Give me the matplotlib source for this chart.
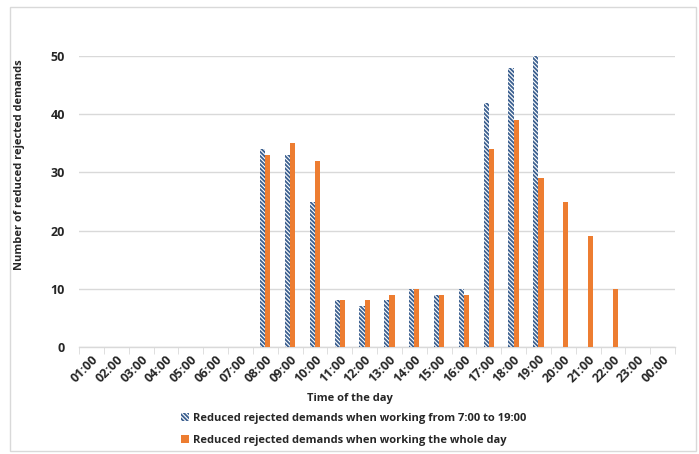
import matplotlib.pyplot as plt
import matplotlib.patches as patches
import numpy as np

plt.rcParams['font.family'] = ['Open Sans', 'DejaVu Sans']
plt.rcParams['hatch.linewidth'] = 1.3

# hours of the day
hours = ["01:00", "02:00", "03:00", "04:00", "05:00", "06:00", "07:00", "08:00",
         "09:00", "10:00", "11:00", "12:00", "13:00", "14:00", "15:00", "16:00",
         "17:00", "18:00", "19:00", "20:00", "21:00", "22:00", "23:00", "00:00"]

# reduced rejected demands, working 7:00-19:00
part_day = [0, 0, 0, 0, 0, 0, 0, 34, 33, 25, 8, 7, 8, 10, 9, 10, 42, 48, 50, 0, 0, 0, 0, 0]
# reduced rejected demands, working the whole day
whole_day = [0, 0, 0, 0, 0, 0, 0, 33, 35, 32, 8, 8, 9, 10, 9, 9, 34, 39, 29, 25, 19, 10, 0, 0]

label_part = "Reduced rejected demands when working from 7:00 to 19:00"
label_whole = "Reduced rejected demands when working the whole day"

fig = plt.figure(figsize=(6.99, 4.54), dpi=100)
ax = fig.add_axes([79 / 699, 1 - 347 / 454, 596 / 699, 291 / 454])

# outer chart border
fig.patches.append(patches.Rectangle((10 / 699, 3 / 454), 686 / 699, 444 / 454,
                                     transform=fig.transFigure, fill=False,
                                     edgecolor="#D9D9D9", linewidth=1))

x = np.arange(len(hours))
w = 0.21
ax.bar(x - w / 2, part_day, w, facecolor="white", edgecolor="#3B5F8F",
       hatch="\\\\\\\\\\\\\\\\", linewidth=0, label=label_part, zorder=3)
ax.bar(x + w / 2, whole_day, w, color="#ED7D31", label=label_whole, zorder=3)

ax.set_xlim(-0.5, len(hours) - 0.5)
ax.set_ylim(0, 50)
ax.set_yticks([0, 10, 20, 30, 40, 50])
ax.yaxis.grid(True, color="#D9D9D9", linewidth=1)
ax.set_axisbelow(True)

for s in ["top", "right", "left"]:
    ax.spines[s].set_visible(False)
ax.spines["bottom"].set_color("#D9D9D9")
ax.spines["bottom"].set_linewidth(1)

ax.set_xticks(x)
ax.set_xticklabels(hours, rotation=45, ha="right", rotation_mode="anchor",
                   fontsize=9, fontweight="bold", color="#262626")
ax.tick_params(axis="x", length=0, pad=4)
ax.set_xticks(np.arange(-0.5, len(hours)), minor=True)
ax.tick_params(axis="x", which="minor", length=5, color="#D9D9D9")
ax.tick_params(axis="y", length=0, labelsize=9, pad=10)
for t in ax.get_yticklabels():
    t.set_fontweight("bold")
    t.set_color("#262626")

ax.set_ylabel("Number of reduced rejected demands", fontsize=8, fontweight="bold",
              color="#262626")
ax.yaxis.set_label_coords(-0.0906, 0.627)
fig.text(0.5, 1 - 399 / 454, "Time of the day", ha="center", va="center",
         fontsize=8, fontweight="bold", color="#262626")

fig.legend(loc="upper left", bbox_to_anchor=(171 / 699, 1 - 403 / 454),
           frameon=False, handlelength=0.72, handleheight=0.72,
           handletextpad=0.36, labelspacing=0.95,
           prop={"weight": "bold", "size": 8},
           labelcolor="#262626")

fig.savefig("out.png", dpi=100)
